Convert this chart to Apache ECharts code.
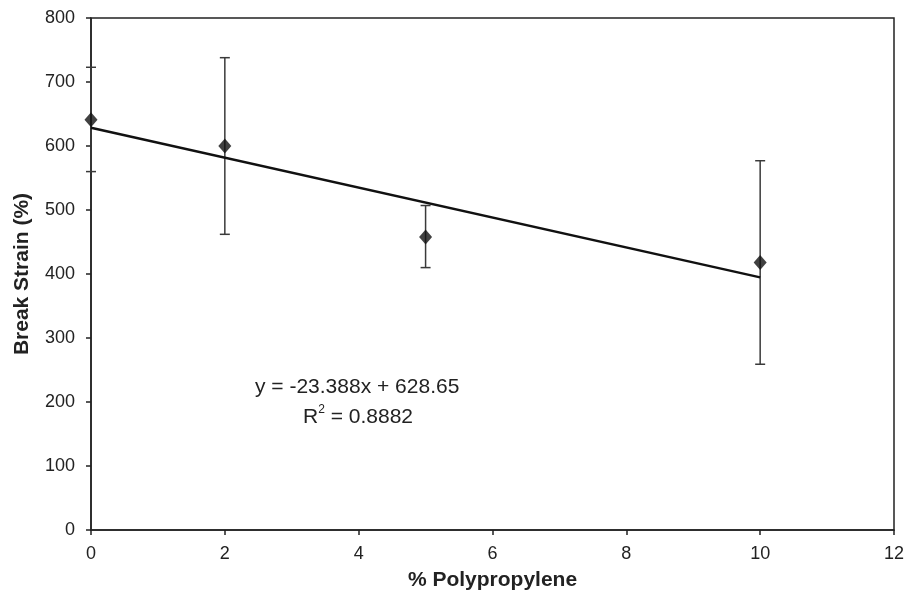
<!DOCTYPE html>
<html>
<head>
<meta charset="utf-8">
<script src="https://cdn.jsdelivr.net/npm/echarts@6/dist/echarts.min.js"></script>
<style>
html,body{margin:0;padding:0;background:#fff;}
#main{width:908px;height:597px;}
</style>
</head>
<body>
<div id="main"></div>
<script>
// 数据
var pp = [0, 2, 5, 10];
var strain = [641, 600, 458, 418];
var errLow = [560, 462, 410, 259];
var errHigh = [723, 738, 507, 577];
var slope = -23.388;
var intercept = 628.65;
var trendX = [0, 10];
var eqText = 'y = -23.388x + 628.65';
var r2Text = '0.8882';

var font = 'Liberation Sans, Arial, sans-serif';

var pts = [];
for (var i = 0; i < pp.length; i++) {
	pts.push([pp[i], strain[i]]);
}
var errData = [];
for (var i = 0; i < pp.length; i++) {
	errData.push([pp[i], errLow[i], errHigh[i]]);
}
var trend = [];
for (var i = 0; i < trendX.length; i++) {
	trend.push([trendX[i], slope * trendX[i] + intercept]);
}

// 误差线
function renderErr(params, api) {
	var lo = api.coord([api.value(0), api.value(1)]);
	var hi = api.coord([api.value(0), api.value(2)]);
	var w = 5;
	var st = {stroke: '#3a3a3a', lineWidth: 1.5};
	return {
		type: 'group',
		children: [
			{type: 'line', shape: {x1: lo[0], y1: lo[1], x2: hi[0], y2: hi[1]}, style: st},
			{type: 'line', shape: {x1: lo[0] - w, y1: lo[1], x2: lo[0] + w, y2: lo[1]}, style: st},
			{type: 'line', shape: {x1: hi[0] - w, y1: hi[1], x2: hi[0] + w, y2: hi[1]}, style: st}
		]
	};
}

var myChart = echarts.init(document.getElementById('main'));
var option = {
	animation: false,
	grid: {
		left: 91, right: 14, top: 18, bottom: 67,
		show: true, borderColor: '#222', borderWidth: 1.5, backgroundColor: 'transparent'
	},
	xAxis: {
		type: 'value', min: 0, max: 12, interval: 2,
		name: '% Polypropylene', nameLocation: 'middle', nameGap: 40,
		nameTextStyle: {fontFamily: font, fontSize: 21, fontWeight: 'bold', color: '#222'},
		axisLine: {show: true, onZero: false, lineStyle: {color: '#222', width: 1.5}},
		axisTick: {show: true, inside: false, length: 5, lineStyle: {color: '#222', width: 1.5}},
		axisLabel: {fontFamily: font, fontSize: 18, color: '#222', margin: 15},
		splitLine: {show: false}
	},
	yAxis: {
		type: 'value', min: 0, max: 800, interval: 100,
		name: 'Break Strain (%)', nameLocation: 'middle', nameGap: 58, nameRotate: 90,
		nameTextStyle: {fontFamily: font, fontSize: 21, fontWeight: 'bold', color: '#222'},
		axisLine: {show: true, lineStyle: {color: '#222', width: 1.5}},
		axisTick: {show: true, inside: false, length: 5, lineStyle: {color: '#222', width: 1.5}},
		axisLabel: {fontFamily: font, fontSize: 18, color: '#222', margin: 16},
		splitLine: {show: false}
	},
	series: [
		{
			type: 'custom',
			renderItem: renderErr,
			data: errData,
			encode: {x: 0, y: [1, 2]},
			z: 1
		},
		{
			type: 'line',
			data: trend,
			showSymbol: false,
			lineStyle: {color: '#111', width: 2.5},
			z: 2
		},
		{
			type: 'scatter',
			data: pts,
			symbol: 'diamond',
			symbolSize: [13, 15],
			itemStyle: {color: '#111'},
			z: 3
		}
	],
	graphic: [
		{
			type: 'text', left: 255, top: 377,
			style: {text: eqText, fontFamily: font, fontSize: 21, fill: '#222'}
		},
		{
			type: 'text', left: 303, top: 404,
			style: {
				text: '{b|R}{s|2}{b| = ' + r2Text + '}',
				fontFamily: font, fill: '#222',
				rich: {
					b: {fontFamily: font, fontSize: 21, color: '#222', verticalAlign: 'bottom'},
					s: {fontFamily: font, fontSize: 12, color: '#222', verticalAlign: 'top', padding: [0, 0, 12, 0]}
				}
			}
		}
	]
};
myChart.setOption(option);
</script>
</body>
</html>
